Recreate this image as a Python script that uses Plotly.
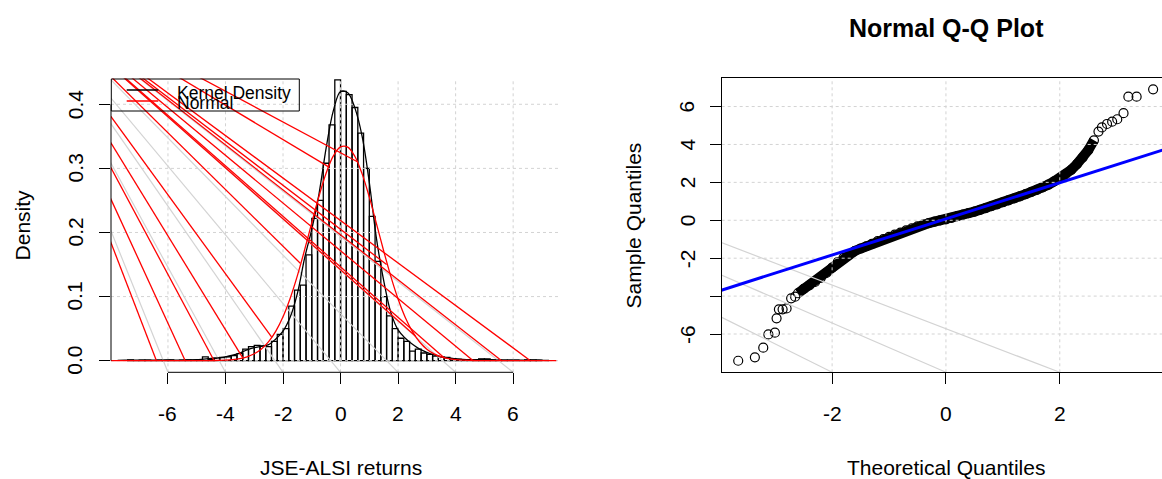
import plotly.graph_objects as go
import numpy as np

W, H = 1162, 479
FONT = "Liberation Sans, Arial, Helvetica, sans-serif"

# ---------------- data: left panel (histogram of returns) ----------------
hist_bin_width = 0.2
hist_first_center = -7.3
hist_density = [
    0.0014, 0.0, 0.0007, 0.0007, 0.0, 0.0007, 0.0007, 0.0014, 0.0, 0.0007,
    0.0014, 0.0007, 0.0014, 0.0060, 0.0020, 0.0040, 0.0050, 0.0060, 0.0080, 0.0110,
    0.0180, 0.0220, 0.0240, 0.0230, 0.0220, 0.0300, 0.0410, 0.0500, 0.0850, 0.1100,
    0.1180, 0.1650, 0.2220, 0.2500, 0.3080, 0.3680, 0.4380, 0.4200, 0.4150, 0.3950,
    0.3550, 0.3000, 0.2250, 0.1550, 0.1000, 0.0700, 0.0500, 0.0350, 0.0300, 0.0150,
    0.0180, 0.0120, 0.0100, 0.0070, 0.0060, 0.0050, 0.0030, 0.0020, 0.0014, 0.0014,
    0.0007, 0.0027, 0.0027, 0.0014, 0.0007, 0.0007, 0.0007, 0.0007, 0.0, 0.0014,
    0.0014, 0.0007,
]
hist_centers = hist_first_center + hist_bin_width * np.arange(len(hist_density))

kernel_x = [-7.75, -7.5, -7.25, -7.0, -6.75, -6.5, -6.25, -6.0, -5.75, -5.5, -5.25, -5.0,
            -4.75, -4.5, -4.25, -4.0, -3.75, -3.5, -3.25, -3.0, -2.75, -2.5, -2.25, -2.0,
            -1.75, -1.5, -1.25, -1.0, -0.75, -0.5, -0.25, 0.0, 0.25, 0.5, 0.75, 1.0,
            1.25, 1.5, 1.75, 2.0, 2.25, 2.5, 2.75, 3.0, 3.25, 3.5, 3.75, 4.0,
            4.25, 4.5, 4.75, 5.0, 5.25, 5.5, 5.75, 6.0, 6.25, 6.5, 6.75, 7.0, 7.25]
kernel_y = [0.0004, 0.0008, 0.0010, 0.0009, 0.0009, 0.0008, 0.0009, 0.0011, 0.0010, 0.0010, 0.0012, 0.0015,
            0.0025, 0.0035, 0.0045, 0.0060, 0.0085, 0.0120, 0.0170, 0.0205, 0.0225, 0.0250, 0.0340, 0.0460,
            0.0680, 0.1050, 0.1600, 0.2050, 0.2600, 0.3320, 0.3900, 0.4200, 0.4180, 0.3940, 0.3500, 0.2780,
            0.1900, 0.1250, 0.0750, 0.0480, 0.0350, 0.0255, 0.0180, 0.0130, 0.0090, 0.0060, 0.0042, 0.0030,
            0.0020, 0.0016, 0.0018, 0.0020, 0.0015, 0.0010, 0.0008, 0.0007, 0.0007, 0.0010, 0.0010, 0.0006, 0.0003]

normal_x = [-8.0, -7.5, -7.0, -6.5, -6.0, -5.5, -5.0, -4.75, -4.5, -4.25, -4.0, -3.75, -3.5, -3.25,
            -3.0, -2.75, -2.5, -2.25, -2.0, -1.75, -1.5, -1.25, -1.0, -0.75, -0.5, -0.25, 0.0,
            0.25, 0.5, 0.75, 1.0, 1.25, 1.5, 1.75, 2.0, 2.25, 2.5, 2.75, 3.0, 3.25, 3.5, 3.75,
            4.0, 4.25, 4.5, 4.75, 5.0, 5.5, 6.0, 6.5, 7.0, 7.5]
normal_y = [0.0, 0.0, 0.0, 0.0, 0.0, 0.0, 0.0, 0.0001, 0.0002, 0.0004, 0.0008, 0.0017, 0.0033, 0.0061,
            0.0108, 0.0183, 0.0297, 0.0461, 0.0686, 0.0975, 0.1327, 0.1728, 0.2152, 0.2566, 0.2927, 0.3194, 0.3335,
            0.3332, 0.3185, 0.2914, 0.2551, 0.2135, 0.1711, 0.1312, 0.0962, 0.0675, 0.0454, 0.0292, 0.0179, 0.0106, 0.0059, 0.0032,
            0.0016, 0.0008, 0.0004, 0.0002, 0.0001, 0.0, 0.0, 0.0, 0.0, 0.0]

left_xticks = [-6, -4, -2, 0, 2, 4, 6]
left_yticks = [0.0, 0.1, 0.2, 0.3, 0.4]
left_ytick_text = ["0.0", "0.1", "0.2", "0.3", "0.4"]

# stray rendering strokes seen in the picture (origin + end points, data units)
left_stroke_origin = (-11.57, 0.602)
red_stroke_end_x = [-6.4, -5.4, -4.4, -3.4, -2.4, -1.4, -0.4, 0.6, 1.6, 2.6, 3.6, 4.6, 5.6, 6.6]
red_stroke_end_y = [0.0, 0.0, 0.0003, 0.0045, 0.037, 0.152, 0.302, 0.31, 0.15, 0.0385, 0.0045, 0.0003, 0.0, 0.0]
gray_stroke_end_y = -0.0181

# ---------------- data: right panel (normal Q-Q) ----------------
qq_band_q = [-2.6, -2.5, -2.4, -2.3, -2.2, -2.1, -2.0, -1.9, -1.8, -1.7, -1.6, -1.5, -1.4, -1.3,
             -1.2, -1.1, -1.0, -0.9, -0.8, -0.7, -0.6, -0.5, -0.4, -0.3, -0.2, -0.1, 0.0, 0.1,
             0.2, 0.3, 0.4, 0.5, 0.6, 0.7, 0.8, 0.9, 1.0, 1.1, 1.2, 1.3, 1.4, 1.5, 1.6, 1.7,
             1.8, 1.9, 2.0, 2.1, 2.2, 2.3, 2.4, 2.5, 2.6]
qq_band_s = [-3.85, -3.62, -3.44, -3.25, -3.04, -2.78, -2.50, -2.20, -1.98, -1.79, -1.62, -1.49, -1.37, -1.24,
             -1.10, -0.99, -0.88, -0.76, -0.65, -0.53, -0.42, -0.32, -0.23, -0.15, -0.07, -0.01, 0.05, 0.13,
             0.22, 0.30, 0.38, 0.46, 0.55, 0.64, 0.74, 0.84, 0.95, 1.05, 1.15, 1.26, 1.38, 1.50, 1.60, 1.73,
             1.88, 2.05, 2.22, 2.42, 2.66, 2.96, 3.30, 3.70, 4.22]
qq_tail_q = [-3.65, -3.357, -3.21, -3.12, -3.005, -2.976, -2.935, -2.87, -2.80, -2.72, -2.65,
             2.68, 2.74, 2.83, 2.92, 3.01, 3.12, 3.205, 3.35, 3.64]
qq_tail_s = [-7.41, -7.23, -6.72, -6.02, -5.93, -5.17, -4.70, -4.70, -4.65, -4.12, -4.03,
             4.68, 4.90, 5.08, 5.20, 5.33, 5.65, 6.52, 6.52, 6.91]
qqline_q = [-4.0, 4.0]
qqline_s = [-3.74, 3.89]

right_xticks = [-2, 0, 2]
right_yticks = [-6, -4, -2, 0, 2, 4, 6]
right_ytick_text = ["-6", "", "-2", "0", "2", "4", "6"]
right_stroke_origin = (-15.43, 12.05)
right_gray_stroke_end_q = [-2, 0, 2]

# ---------------- layout geometry ----------------
L_X0, L_X1 = 111.0, 558.6
R_X0 = 721.7
P_TOP, P_BOT = 78.5, 372.3
L_XRANGE = [-7.98, 7.58]
L_YRANGE = [-0.0181, 0.4402]
R_XRANGE = [-3.94, 3.796]
R_YRANGE = [-8.02, 7.49]

GRID = "#D3D3D3"


def px(xp):
    return xp / W


def py(yp):
    return 1 - yp / H


fig = go.Figure()

# histogram
fig.add_trace(go.Bar(x=hist_centers, y=hist_density, width=hist_bin_width,
                     marker=dict(color="rgba(0,0,0,0)", line=dict(color="black", width=1.3)),
                     xaxis="x", yaxis="y", showlegend=False, hoverinfo="skip"))

# grid (drawn above the bars, as in the picture)
gx, gy = [], []
for v in left_xticks:
    gx += [v, v, None]
    gy += [L_YRANGE[0], L_YRANGE[1], None]
for v in left_yticks:
    gx += [L_XRANGE[0], L_XRANGE[1], None]
    gy += [v, v, None]
fig.add_trace(go.Scatter(x=gx, y=gy, mode="lines", line=dict(color=GRID, width=1, dash="dot"),
                         xaxis="x", yaxis="y", showlegend=False, hoverinfo="skip"))

# gray stray strokes (left)
sx, sy = [], []
for v in left_xticks:
    sx += [left_stroke_origin[0], v, None]
    sy += [left_stroke_origin[1], gray_stroke_end_y, None]
fig.add_trace(go.Scatter(x=sx, y=sy, mode="lines", line=dict(color=GRID, width=1.2),
                         xaxis="x", yaxis="y", showlegend=False, hoverinfo="skip"))

# kernel density
fig.add_trace(go.Scatter(x=kernel_x, y=kernel_y, mode="lines", line=dict(color="black", width=1.3, shape="spline"),
                         xaxis="x", yaxis="y", showlegend=False, hoverinfo="skip"))
# normal density
fig.add_trace(go.Scatter(x=normal_x, y=normal_y, mode="lines", line=dict(color="red", width=1.3, shape="spline"),
                         xaxis="x", yaxis="y", showlegend=False, hoverinfo="skip"))
# red stray strokes
rx, ry = [], []
for ex, ey in zip(red_stroke_end_x, red_stroke_end_y):
    rx += [left_stroke_origin[0], ex, None]
    ry += [left_stroke_origin[1], ey, None]
fig.add_trace(go.Scatter(x=rx, y=ry, mode="lines", line=dict(color="red", width=1.3),
                         xaxis="x", yaxis="y", showlegend=False, hoverinfo="skip"))

# ---- right panel ----
fig.add_trace(go.Scatter(x=qq_band_q, y=qq_band_s, mode="lines", line=dict(color="black", width=10),
                         xaxis="x2", yaxis="y2", showlegend=False, hoverinfo="skip"))
fig.add_trace(go.Scatter(x=qq_band_q + qq_tail_q, y=qq_band_s + qq_tail_s, mode="markers",
                         marker=dict(symbol="circle-open", size=9, color="black", line=dict(width=1.2)),
                         xaxis="x2", yaxis="y2", showlegend=False, hoverinfo="skip"))
gx, gy = [], []
for v in right_xticks:
    gx += [v, v, None]
    gy += [R_YRANGE[0], R_YRANGE[1], None]
for v in right_yticks:
    gx += [R_XRANGE[0], R_XRANGE[1], None]
    gy += [v, v, None]
fig.add_trace(go.Scatter(x=gx, y=gy, mode="lines", line=dict(color=GRID, width=1, dash="dot"),
                         xaxis="x2", yaxis="y2", showlegend=False, hoverinfo="skip"))
sx, sy = [], []
for v in right_gray_stroke_end_q:
    sx += [right_stroke_origin[0], v, None]
    sy += [right_stroke_origin[1], R_YRANGE[0], None]
fig.add_trace(go.Scatter(x=sx, y=sy, mode="lines", line=dict(color=GRID, width=1.2),
                         xaxis="x2", yaxis="y2", showlegend=False, hoverinfo="skip"))
fig.add_trace(go.Scatter(x=qqline_q, y=qqline_s, mode="lines", line=dict(color="#0000FF", width=3),
                         xaxis="x2", yaxis="y2", showlegend=False, hoverinfo="skip"))

axis_common = dict(showgrid=False, zeroline=False, showticklabels=False, ticks="outside",
                   ticklen=11, tickwidth=1, tickcolor="black", fixedrange=True)

fig.update_layout(
    width=W, height=H, margin=dict(l=0, r=0, t=0, b=0),
    paper_bgcolor="white", plot_bgcolor="white", showlegend=False,
    xaxis=dict(domain=[px(L_X0), px(L_X1)], range=L_XRANGE, tickvals=left_xticks, showline=False,
               anchor="y", **axis_common),
    yaxis=dict(domain=[py(P_BOT), py(P_TOP)], range=L_YRANGE, tickvals=left_yticks, showline=False,
               anchor="x", **axis_common),
    xaxis2=dict(domain=[px(R_X0), 1.0], range=R_XRANGE, tickvals=right_xticks, showline=True,
                linecolor="black", linewidth=1, mirror=True, anchor="y2", **axis_common),
    yaxis2=dict(domain=[py(P_BOT), py(78.3)], range=R_YRANGE, tickvals=right_yticks, showline=True,
                linecolor="black", linewidth=1, mirror=False, anchor="x2", **axis_common),
)

shapes = []
# left axis lines (R style: only across tick span)
shapes.append(dict(type="line", xref="x", yref="paper", x0=left_xticks[0], x1=left_xticks[-1],
                   y0=py(P_BOT), y1=py(P_BOT), line=dict(color="black", width=1)))
shapes.append(dict(type="line", xref="paper", yref="y", x0=px(L_X0), x1=px(L_X0),
                   y0=left_yticks[0], y1=left_yticks[-1], line=dict(color="black", width=1)))
# legend box + keys
shapes.append(dict(type="rect", xref="paper", yref="paper", x0=px(111.3), x1=px(299.3),
                   y0=py(111), y1=py(79), line=dict(color="black", width=1)))
shapes.append(dict(type="line", xref="paper", yref="paper", x0=px(126.7), x1=px(158.3),
                   y0=py(90), y1=py(90), line=dict(color="black", width=1.3)))
shapes.append(dict(type="line", xref="paper", yref="paper", x0=px(126.7), x1=px(158.3),
                   y0=py(101), y1=py(101), line=dict(color="red", width=1.3)))
fig.update_layout(shapes=shapes)

ann = []
TF = dict(family=FONT, size=21, color="black")
for v in left_xticks:
    ann.append(dict(x=v, y=py(413), xref="x", yref="paper", text=str(v), showarrow=False,
                    font=TF, xanchor="center", yanchor="middle"))
for v, t in zip(left_yticks, left_ytick_text):
    ann.append(dict(x=px(75), y=v, xref="paper", yref="y", text=t, showarrow=False, textangle=-90,
                    font=TF, xanchor="center", yanchor="middle"))
for v in right_xticks:
    ann.append(dict(x=v, y=py(413), xref="x2", yref="paper", text=str(v), showarrow=False,
                    font=TF, xanchor="center", yanchor="middle"))
for v, t in zip(right_yticks, right_ytick_text):
    if t:
        ann.append(dict(x=px(687), y=v, xref="paper", yref="y2", text=t, showarrow=False, textangle=-90,
                        font=TF, xanchor="center", yanchor="middle"))
ann.append(dict(x=px(341), y=py(467), xref="paper", yref="paper", text="JSE-ALSI returns",
                showarrow=False, font=TF, xanchor="center", yanchor="middle"))
ann.append(dict(x=px(22), y=py((P_TOP + P_BOT) / 2), xref="paper", yref="paper", text="Density",
                showarrow=False, textangle=-90, font=TF, xanchor="center", yanchor="middle"))
ann.append(dict(x=px(946), y=py(467), xref="paper", yref="paper", text="Theoretical Quantiles",
                showarrow=False, font=TF, xanchor="center", yanchor="middle"))
ann.append(dict(x=px(633), y=py((P_TOP + P_BOT) / 2), xref="paper", yref="paper", text="Sample Quantiles",
                showarrow=False, textangle=-90, font=TF, xanchor="center", yanchor="middle"))
ann.append(dict(x=px(946), y=py(28), xref="paper", yref="paper", text="<b>Normal Q-Q Plot</b>",
                showarrow=False, font=dict(family=FONT, size=25, color="black"), xanchor="center", yanchor="middle"))
LF = dict(family=FONT, size=17.5, color="black")
ann.append(dict(x=px(175), y=py(93.3), xref="paper", yref="paper", text="Kernel Density",
                showarrow=False, font=LF, xanchor="left", yanchor="middle"))
ann.append(dict(x=px(175), y=py(103.3), xref="paper", yref="paper", text="Normal",
                showarrow=False, font=LF, xanchor="left", yanchor="middle"))
fig.update_layout(annotations=ann)

fig.write_html("out.html", config={"displayModeBar": False, "staticPlot": True},
               post_script="document.body.style.margin='0';document.body.style.overflow='hidden';")
